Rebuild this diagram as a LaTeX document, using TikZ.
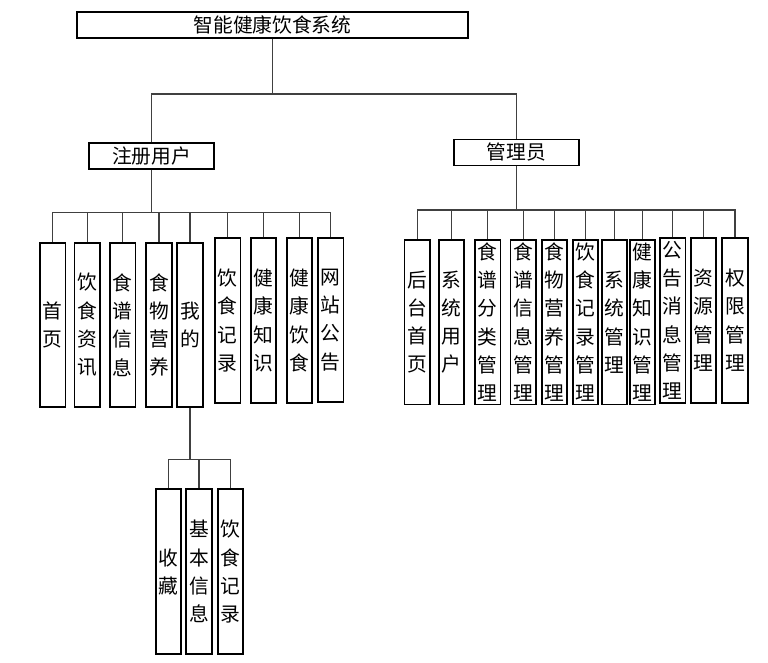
\documentclass[tikz,border=0pt]{standalone}
\usepackage{fontspec}
\newfontfamily\cjk{Noto Sans CJK SC}
\usetikzlibrary{positioning}

\begin{document}
\begin{tikzpicture}[x=0.75pt, y=-0.75pt, line join=miter,
	hbox/.style={draw, line width=1.4pt, inner sep=0pt, minimum height=19.5pt,
		font=\cjk\fontsize{14.8pt}{17pt}\selectfont},
	vbox/.style={draw, line width=1.4pt, inner sep=0pt, align=center,
		minimum width=\bw, minimum height=\bh,
		font=\cjk\fontsize{14.8pt}{21.2pt}\selectfont},
	link/.style={line width=0.8pt, black!75}]
	
	% Parámetros
	\def\bw{19pt}    % ancho de las cajas verticales
	\def\bh{123.5pt} % alto de las cajas verticales
	
	\useasboundingbox (0,0) rectangle (768,663);
	
	% --- Nivel superior ---
	\node[hbox, minimum width=293.3pt] (sys) at (272.5,25) {智能健康饮食系统};
	\node[hbox, minimum width=93.8pt] (user)  at (151.5,156) {注册用户};
	\node[hbox, minimum width=93.8pt] (admin) at (516.5,152.5) {管理员};
	
	% --- Módulos del usuario ---
	\node[vbox] (shouye)   at (52.8,325)  {首\\页};
	\node[vbox] (zixun)    at (87.2,325)  {饮\\食\\资\\讯};
	\node[vbox] (shipu)    at (122.8,325) {食\\谱\\信\\息};
	\node[vbox] (yingyang) at (159,325)   {食\\物\\营\\养};
	\node[vbox] (wode)     at (190,325)   {我\\的};
	\node[vbox] (jilu)     at (227.8,320.5) {饮\\食\\记\\录};
	\node[vbox] (zhishi)   at (263.7,320.5) {健\\康\\知\\识};
	\node[vbox] (yinshi)   at (299.5,320.5) {健\\康\\饮\\食};
	\node[vbox] (gonggao)  at (330.8,320)   {网\\站\\公\\告};
	
	% --- Módulos del administrador ---
	\node[vbox] (houtai)     at (417.2,322.2) {后\\台\\首\\页};
	\node[vbox] (yonghu)     at (451.7,322.2) {系\\统\\用\\户};
	\node[vbox] (fenlei)     at (487.8,322.2) {食\\谱\\分\\类\\管\\理};
	\node[vbox] (xinxi)      at (523.2,322.2) {食\\谱\\信\\息\\管\\理};
	\node[vbox] (yingyangGL) at (554.3,322.2) {食\\物\\营\\养\\管\\理};
	\node[vbox] (jiluGL)     at (585.5,322.2) {饮\\食\\记\\录\\管\\理};
	\node[vbox] (xitongGL)   at (614.5,322.2) {系\\统\\管\\理};
	\node[vbox] (zhishiGL)   at (642.7,322.2) {健\\康\\知\\识\\管\\理};
	\node[vbox] (gonggaoGL)  at (672.8,320.3) {公\\告\\消\\息\\管\\理};
	\node[vbox] (ziyuan)     at (703.7,320.3) {资\\源\\管\\理};
	\node[vbox] (quanxian)   at (735,320.3)   {权\\限\\管\\理};
	
	% --- Submódulos de "我的" ---
	\node[vbox] (shoucang) at (168.3,571.7) {收\\藏};
	\node[vbox] (jiben)    at (199,571.7)   {基\\本\\信\\息};
	\node[vbox] (jilu2)    at (230.3,571.7) {饮\\食\\记\\录};
	
	% --- Puntos de las barras de conexión ---
	\coordinate (busS) at (272.5,94);
	\coordinate (busU) at (151.5,212.7);
	\coordinate (busA) at (516.5,210);
	\coordinate (busW) at (190,459.3);
	
	% --- Conexiones ---
	\draw[link] (sys.south) -- (busS)
		(user.north) |- (busS)
		(admin.north) |- (busS);
	
	\draw[link] (user.south) -- (busU)
		(shouye.north) |- (busU)  (zixun.north) |- (busU)
		(shipu.north) |- (busU)   (yingyang.north) |- (busU)
		(wode.north) |- (busU)    (jilu.north) |- (busU)
		(zhishi.north) |- (busU)  (yinshi.north) |- (busU)
		(gonggao.north) |- (busU);
	
	\draw[link] (admin.south) -- (busA)
		(houtai.north) |- (busA)     (yonghu.north) |- (busA)
		(fenlei.north) |- (busA)     (xinxi.north) |- (busA)
		(yingyangGL.north) |- (busA) (jiluGL.north) |- (busA)
		(xitongGL.north) |- (busA)   (zhishiGL.north) |- (busA)
		(gonggaoGL.north) |- (busA)  (ziyuan.north) |- (busA)
		(quanxian.north) |- (busA);
	
	\draw[link] (wode.south) -- (busW)
		(shoucang.north) |- (busW)
		(jiben.north) |- (busW)
		(jilu2.north) |- (busW);
	
\end{tikzpicture}
\end{document}
